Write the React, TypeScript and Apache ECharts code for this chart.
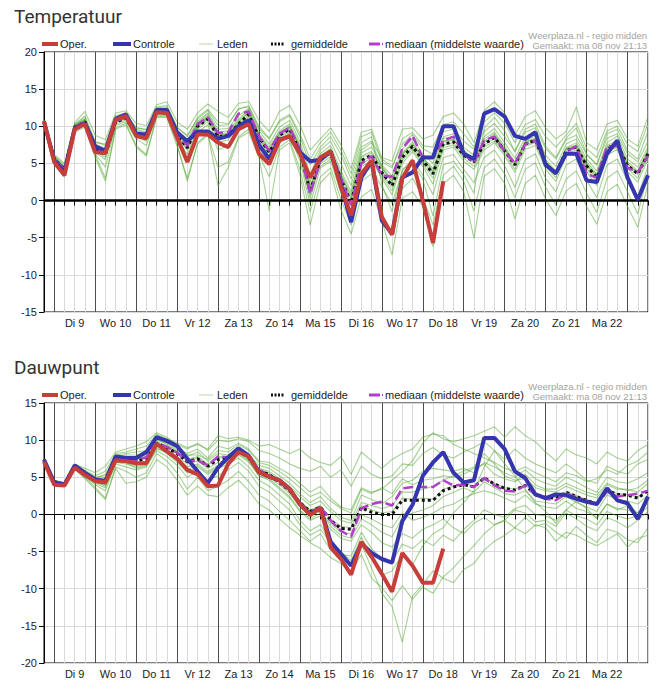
import React, { useEffect, useRef } from 'react';
import * as echarts from 'echarts';

// Day names shown under the x axis (label at noon of each day)
const DAYS = ['Ma 8', 'Di 9', 'Wo 10', 'Do 11', 'Vr 12', 'Za 13', 'Zo 14', 'Ma 15', 'Di 16', 'Wo 17', 'Do 18', 'Vr 19', 'Za 20', 'Zo 21', 'Ma 22', 'Di 23'];
// Forecast runs in 6-hour steps, starting Monday 8 at 18:00
const STEP_HOURS = 6;
const START_HOUR = 18;
const STEPS = 60;

// ---------- Temperatuur ----------
const T_OPER = [10.7, 5.2, 3.4, 9.6, 10.3, 6.5, 6.4, 10.9, 11.4, 8.7, 8.4, 11.9, 11.8, 8.5, 5.2, 8.9, 8.9, 7.8, 7.2, 9.6, 10.3, 6.3, 4.9, 8.1, 8.7, 6.3, 3.1, 5.8, 6.6, 1.8, -2.0, 3.6, 5.4, -2.2, -4.6, 3.0, 5.4, 0.0, -5.7, 2.6];
const T_CTRL = [10.6, 5.4, 3.8, 9.7, 10.4, 7.3, 6.7, 11.0, 11.6, 9.0, 8.9, 12.2, 12.2, 9.2, 8.0, 9.3, 9.3, 8.3, 8.7, 10.0, 10.8, 7.5, 5.6, 8.2, 8.6, 6.5, 5.3, 5.5, 6.6, 2.2, -2.9, 3.1, 5.3, -2.7, -4.5, 3.1, 3.8, 5.8, 5.8, 10.0, 10.0, 6.3, 5.6, 11.7, 12.3, 11.3, 8.7, 8.3, 9.2, 4.8, 3.7, 6.3, 6.3, 2.7, 2.5, 6.3, 8.1, 3.1, 0.1, 3.4];
const T_MEAN = [10.6, 5.6, 4.2, 9.9, 10.6, 7.0, 6.2, 10.6, 11.1, 9.0, 8.6, 11.9, 11.9, 8.8, 7.1, 10.0, 11.0, 8.6, 8.8, 10.3, 11.6, 8.5, 6.5, 8.8, 9.6, 6.7, 1.2, 5.6, 6.5, 2.9, -0.3, 5.4, 6.1, 3.8, 2.0, 5.8, 7.3, 5.4, 3.6, 7.6, 7.9, 6.1, 5.2, 7.6, 8.5, 6.7, 4.8, 7.6, 8.1, 5.0, 3.6, 6.7, 7.2, 4.7, 3.1, 6.9, 7.6, 4.7, 3.6, 6.3];
const T_MEDIAN = [10.6, 5.6, 4.2, 9.9, 10.6, 7.0, 6.3, 10.7, 11.2, 9.0, 8.7, 12.0, 12.0, 8.9, 7.4, 10.3, 11.2, 9.1, 9.2, 11.7, 12.0, 8.6, 6.7, 9.0, 9.8, 6.9, 0.9, 5.4, 6.6, 3.0, -0.6, 5.0, 6.0, 3.4, 3.2, 7.0, 8.7, 5.8, 5.8, 8.1, 8.6, 6.3, 5.1, 8.1, 8.6, 6.6, 5.0, 7.6, 8.1, 4.9, 3.6, 6.6, 7.3, 3.6, 3.1, 7.3, 7.3, 4.4, 3.8, 6.0];
const T_MEMBERS = [
  [10.7, 5.9, 4.6, 10.2, 11.0, 7.5, 6.8, 11.0, 11.5, 9.4, 9.1, 12.3, 12.4, 9.3, 7.8, 10.5, 11.6, 9.2, 9.4, 11.0, 12.2, 9.0, 7.2, 9.4, 10.3, 7.5, 2.5, 6.3, 7.4, 4.0, 1.2, 6.4, 7.2, 4.8, 3.3, 6.9, 8.3, 6.3, 5.0, 8.6, 9.0, 7.2, 6.1, 8.6, 9.7, 7.8, 5.7, 8.5, 9.2, 6.1, 4.6, 7.6, 8.3, 5.6, 4.0, 7.8, 8.7, 5.6, 4.5, 7.2],
  [10.5, 5.0, 3.3, 9.4, 10.2, 6.2, 3.0, 9.8, 10.4, 7.4, 6.2, 11.3, 11.4, 7.6, 2.6, 7.8, 9.0, 2.0, 4.5, 8.4, 9.2, 5.8, -1.4, 6.8, 7.8, 3.5, -3.3, 2.4, 3.8, -1.2, -4.5, 0.5, 1.5, -2.8, -7.3, 0.3, 1.2, -0.8, -6.2, 2.3, 3.4, 1.2, -5.1, 3.3, 4.3, 2.3, -2.5, 2.3, 3.4, 0.2, -2.0, 1.3, 2.3, -0.8, -3.2, 1.2, 2.2, -0.8, -3.6, 2.3],
  [10.9, 6.2, 5.0, 10.5, 12.0, 8.8, 8.2, 11.8, 12.1, 10.4, 10.1, 12.9, 13.3, 10.6, 9.6, 11.8, 13.0, 12.0, 11.2, 13.1, 13.3, 10.8, 9.3, 12.0, 12.8, 10.2, 6.8, 8.3, 9.8, 7.5, 4.3, 9.2, 9.6, 5.8, 5.3, 9.6, 9.8, 8.3, 8.8, 11.3, 11.8, 10.3, 7.8, 12.1, 13.3, 11.8, 8.8, 11.3, 12.1, 9.8, 8.3, 9.3, 12.6, 7.8, 6.8, 10.3, 10.8, 8.3, 7.3, 11.3],
  [10.6, 5.4, 4.0, 9.7, 10.3, 6.6, 5.5, 10.3, 10.8, 8.6, 8.0, 11.6, 11.6, 8.4, 6.2, 9.6, 10.6, 7.8, 8.2, 9.8, 11.0, 7.8, 5.6, 8.2, 9.1, 6.0, 0.3, 5.0, 5.9, 2.0, -1.5, 4.6, 5.4, 3.0, 0.8, 5.0, 6.6, 4.6, 2.2, 6.8, 7.2, 5.3, 4.2, 6.8, 7.8, 6.0, 3.8, 6.9, 7.4, 4.2, 2.6, 6.0, 6.5, 3.9, 2.0, 6.1, 6.9, 3.9, 2.5, 5.6],
  [10.5, 5.7, 4.4, 10.0, 10.8, 7.2, 6.5, 10.8, 11.3, 9.2, 8.9, 12.1, 12.1, 9.0, 7.4, 10.2, 11.2, 9.0, 8.9, 10.5, 11.8, 8.7, 6.9, 9.2, 10.0, 7.3, 2.0, 4.6, 5.6, 3.6, 0.8, 6.8, 7.8, 4.6, 2.8, 6.3, 7.6, 5.8, 4.3, 8.4, 8.6, 6.8, 5.6, 8.3, 9.2, 7.3, 5.2, 8.0, 8.7, 5.5, 4.0, 7.1, 7.8, 5.2, 3.6, 7.4, 8.1, 5.2, 4.0, 6.9],
  [10.6, 5.5, 3.8, 9.8, 10.4, 6.8, 5.8, 10.5, 11.0, 8.8, 8.3, 11.8, 11.8, 8.6, 6.8, 9.9, 10.9, 8.3, 8.5, 10.1, 11.3, 8.2, 6.0, 8.5, 9.3, 6.3, 0.8, 5.3, 6.2, 2.4, -0.8, 5.0, 5.7, 3.3, 1.3, 5.4, 6.9, 4.9, 3.0, 7.1, 7.5, 5.7, 4.6, 7.2, 8.0, 6.3, 4.2, 7.3, 7.8, 4.6, 3.1, 6.4, 6.8, 4.3, 2.5, 6.5, 7.2, 4.3, 3.0, 6.0],
  [10.8, 5.8, 4.3, 10.1, 10.9, 7.8, 7.6, 11.2, 11.6, 9.8, 9.5, 12.5, 12.6, 9.8, 8.8, 11.0, 12.1, 10.1, 10.2, 12.3, 12.8, 9.7, 8.3, 10.6, 11.4, 8.6, 4.8, 7.2, 8.6, 6.2, 2.9, 7.8, 8.6, 2.2, -1.5, 4.2, 5.1, 2.9, -2.1, 4.8, 5.3, 3.5, 1.0, 9.8, 11.2, 9.4, 6.6, 9.6, 10.3, 7.3, 5.8, 8.4, 9.8, 6.3, 4.8, 9.0, 9.6, 6.7, 5.6, 9.3],
  [10.4, 4.8, 3.2, 9.2, 9.9, 5.8, 2.6, 9.6, 10.2, 7.2, 6.0, 11.2, 11.2, 7.3, 3.0, 7.6, 8.8, 4.5, 5.2, 8.6, 9.6, 6.2, 3.2, 7.2, 8.2, 4.2, -1.5, 3.2, 4.4, 0.2, -3.3, 2.6, 3.6, -1.8, -4.6, 1.6, 3.0, 0.5, -3.3, 3.4, 4.6, 2.6, -1.4, 4.4, 5.6, 3.6, 0.4, 4.2, 5.1, 1.8, -0.6, 2.9, 4.0, 1.0, -1.6, 3.0, 4.0, 1.2, -1.8, 3.6],
  [10.7, 6.0, 4.8, 10.3, 11.4, 8.0, 7.4, 11.4, 11.8, 9.8, 9.6, 12.6, 12.8, 9.9, 8.6, 11.2, 12.3, 10.6, 10.3, 12.4, 12.6, 10.0, 8.4, 10.8, 11.6, 9.0, 5.6, 7.8, 9.2, 6.8, 3.6, 8.6, 9.2, 5.2, 4.4, 8.3, 9.2, 7.4, 7.2, 10.2, 10.6, 9.0, 7.2, 10.6, 11.8, 10.4, 7.8, 10.2, 10.9, 8.6, 7.2, 8.8, 10.4, 7.0, 5.8, 9.4, 10.0, 7.6, 6.6, 10.4],
  [10.6, 5.6, 4.1, 9.9, 10.5, 7.1, 6.4, 10.6, 11.1, 9.1, 8.7, 11.9, 12.0, 8.9, 7.3, 10.1, 11.2, 8.8, 9.0, 10.6, 11.9, 8.6, 6.4, 9.0, 9.8, 6.9, 1.6, 5.9, 6.9, 3.3, 0.2, 5.8, 6.4, 4.3, 2.6, 6.4, 7.9, 5.8, 4.0, 8.0, 8.3, 6.5, 5.6, 8.0, 9.0, 7.0, 5.0, 7.9, 8.4, 5.2, 3.9, 7.0, 7.5, 4.9, 3.4, 7.2, 7.9, 4.9, 3.8, 6.6],
  [10.5, 5.3, 3.9, 9.6, 10.1, 6.3, 4.5, 10.1, 10.6, 8.3, 7.4, 11.5, 11.5, 8.1, 5.4, 9.2, 10.2, 6.8, 7.4, 9.4, 10.4, 7.1, 4.8, 7.8, 8.7, 5.4, -0.5, 4.4, 5.3, 1.0, -2.4, 3.5, 4.4, 1.8, -0.4, 4.0, 5.6, 3.4, 0.8, 5.8, 6.2, 4.2, 2.4, 5.8, 6.8, 4.7, 1.8, 5.5, 6.3, 3.0, 1.2, 4.8, 5.6, 2.7, 0.4, 4.8, 5.6, 2.6, 0.6, 4.6],
  [10.8, 5.9, 4.5, 10.2, 11.2, 7.6, 7.0, 11.1, 11.6, 9.6, 9.2, 12.2, 12.4, 9.4, 8.2, 10.7, 11.8, 9.6, 9.7, 11.4, 12.4, 9.4, 7.6, 9.9, 10.8, 8.0, 3.5, 6.8, 8.0, 5.0, 2.0, 7.2, 8.0, 5.6, 4.6, 7.6, 8.9, 7.0, 6.2, 9.3, 9.6, 8.0, 6.9, 9.3, 10.4, 8.6, 6.6, 9.2, 9.8, 7.0, 5.6, 8.2, 8.8, 6.2, 4.8, 8.4, 9.0, 6.3, 5.2, 8.0],
  [10.6, 5.6, 4.3, 9.9, 10.7, 7.0, 6.1, 10.7, 11.2, 8.9, 8.5, 11.9, 11.9, 8.8, 7.0, 10.0, 11.0, 8.6, 8.7, 10.3, 11.5, 8.4, 6.4, 8.7, 9.5, 6.6, 1.0, 5.5, 6.4, 2.8, -0.4, 5.3, 6.0, 3.6, 1.8, 5.7, 7.2, 5.3, 3.5, 7.5, 7.8, 6.0, 5.1, 7.5, 8.4, 6.6, 4.7, 7.5, 8.0, 4.9, 3.5, 6.6, 7.1, 4.6, 3.0, 6.8, 7.5, 4.6, 3.5, 6.2],
  [10.7, 5.7, 4.4, 10.0, 10.8, 7.3, 6.6, 10.9, 11.4, 9.3, 8.9, 12.1, 12.2, 9.1, 7.6, 10.4, 11.4, 9.1, 9.1, 10.8, 12.0, 8.9, 6.8, 9.1, 10.0, 7.1, 1.8, 6.0, 7.0, 3.5, 0.5, 6.0, 6.6, 4.5, 2.5, 6.2, 7.6, 5.6, 3.8, 7.9, 8.2, 6.4, 5.4, 7.8, 8.8, 6.9, 5.0, 7.8, 8.3, 5.2, 3.8, 6.9, 7.4, 4.8, 3.3, 7.0, 7.8, 4.9, 3.8, 6.5],
];

// ---------- Dauwpunt ----------
const D_OPER = [7.1, 4.0, 3.9, 6.3, 5.3, 4.5, 4.3, 7.3, 7.2, 6.9, 6.9, 9.5, 8.5, 7.5, 6.0, 5.4, 3.8, 3.9, 6.8, 8.4, 7.8, 5.7, 5.1, 4.6, 3.4, 1.4, -0.1, 0.9, -4.4, -6.0, -8.1, -3.7, -5.7, -8.0, -10.4, -5.2, -6.9, -9.2, -9.2, -4.6];
const D_CTRL = [7.4, 4.3, 4.0, 6.6, 5.6, 4.7, 4.5, 7.8, 7.6, 7.6, 8.4, 10.4, 9.9, 9.2, 7.5, 5.8, 4.2, 6.3, 7.7, 8.9, 7.9, 5.7, 5.1, 4.6, 3.4, 1.4, 0.1, 0.9, -3.7, -5.3, -6.9, -3.9, -5.2, -6.0, -6.5, -0.9, 1.3, 5.2, 7.0, 8.4, 5.6, 4.3, 4.6, 10.3, 10.3, 8.8, 5.8, 4.9, 2.7, 2.2, 2.7, 2.6, 2.1, 1.7, 1.4, 3.5, 1.9, 1.5, -0.6, 2.4];
const D_MEAN = [7.3, 4.4, 4.1, 6.5, 5.5, 4.6, 4.5, 7.4, 7.5, 7.2, 7.5, 9.6, 9.0, 8.2, 7.1, 7.5, 6.5, 7.4, 7.6, 8.6, 7.6, 5.8, 5.4, 4.3, 3.2, 1.6, 0.4, 1.0, -0.8, -1.9, -2.0, 0.9, 0.3, 0.0, 0.0, 1.9, 1.9, 1.9, 1.9, 3.2, 3.7, 4.0, 3.7, 4.9, 4.1, 3.5, 3.3, 3.9, 2.7, 2.3, 2.2, 3.0, 2.4, 1.9, 1.4, 3.2, 2.7, 2.6, 2.2, 3.2];
const D_MEDIAN = [7.3, 4.4, 4.1, 6.5, 5.5, 4.6, 4.5, 7.4, 7.5, 7.3, 7.7, 9.6, 9.1, 8.3, 7.2, 7.3, 6.6, 7.8, 7.7, 8.5, 7.6, 6.0, 5.3, 4.3, 3.3, 1.6, 0.2, 1.0, -0.8, -2.2, -3.0, 0.8, 1.4, 1.7, 1.2, 3.5, 3.7, 3.7, 3.7, 4.6, 3.9, 4.0, 3.7, 4.9, 3.9, 3.2, 3.1, 3.9, 2.6, 2.1, 1.9, 2.8, 2.3, 1.8, 1.4, 3.1, 2.4, 2.6, 2.8, 3.2];
const D_MEMBERS = [
  [7.5, 4.6, 4.3, 6.8, 6.2, 5.6, 6.5, 8.4, 8.8, 9.2, 9.8, 11.0, 10.4, 9.4, 8.8, 9.6, 8.6, 10.0, 9.8, 10.2, 9.8, 8.6, 8.2, 7.6, 6.8, 6.2, 5.8, 6.5, 5.0, 6.0, 3.8, 6.5, 5.4, 4.8, 5.2, 6.8, 6.6, 8.2, 9.0, 8.0, 7.6, 8.4, 9.0, 9.8, 8.6, 7.4, 8.8, 7.6, 6.8, 6.2, 5.6, 6.8, 5.8, 4.6, 4.2, 6.5, 5.8, 5.4, 6.8, 7.4],
  [7.2, 4.2, 3.9, 6.2, 5.0, 3.6, 2.2, 6.4, 5.8, 5.0, 5.6, 8.2, 7.2, 5.6, 3.4, 5.0, 3.2, 3.8, 4.6, 5.8, 4.4, 2.6, 1.8, 0.4, -0.8, -2.2, -3.6, -2.6, -4.8, -6.2, -6.8, -4.0, -7.2, -10.6, -12.4, -17.2, -11.0, -9.4, -7.6, -8.6, -9.2, -7.4, -6.6, -4.8, -3.6, -2.8, -1.8, -2.6, -1.4, -1.8, -3.6, -2.4, -2.8, -3.6, -4.2, -3.4, -2.6, -4.4, -3.2, -2.8],
  [7.3, 4.4, 4.1, 6.5, 5.6, 4.6, 4.6, 7.6, 7.8, 7.4, 7.8, 9.8, 9.2, 8.4, 7.2, 7.6, 6.6, 7.6, 7.8, 8.8, 7.8, 6.0, 5.6, 4.4, 3.4, 1.8, 0.6, 1.2, -0.6, -1.6, -1.8, 1.2, 0.6, 0.2, 0.4, 2.2, 2.0, 2.2, 2.0, 3.4, 3.8, 4.2, 3.8, 5.0, 4.2, 3.6, 3.4, 4.0, 2.8, 2.4, 2.3, 3.1, 2.5, 2.0, 1.5, 3.3, 2.8, 2.7, 2.3, 3.3],
  [7.2, 4.3, 4.0, 6.4, 5.2, 4.2, 3.6, 7.0, 6.8, 6.4, 6.8, 9.0, 8.2, 7.0, 5.6, 6.4, 5.4, 6.2, 6.8, 7.6, 6.4, 4.6, 3.8, 2.6, 1.4, -0.8, -2.2, -1.4, -3.6, -5.0, -6.2, -3.0, -5.8, -8.2, -7.6, -5.4, -6.8, -4.2, -2.6, -1.8, 0.2, 1.6, 3.2, 6.4, 8.6, 6.8, 5.2, 3.4, 1.6, 0.4, -1.2, 0.6, 1.8, 0.8, -0.6, 1.4, 0.6, 1.2, 0.2, 2.0],
  [7.4, 4.5, 4.2, 6.6, 5.8, 5.0, 5.2, 8.0, 8.2, 8.4, 8.6, 10.4, 9.8, 9.0, 8.2, 8.8, 7.6, 9.2, 8.8, 9.6, 8.8, 7.2, 7.0, 6.2, 5.4, 4.2, 3.0, 3.8, 2.2, 1.0, 0.6, 3.6, 3.0, 3.4, 4.6, 5.8, 7.2, 9.6, 11.0, 10.2, 9.8, 10.2, 10.6, 11.2, 11.8, 10.4, 11.8, 10.6, 9.8, 8.4, 7.2, 8.8, 8.0, 7.6, 6.8, 8.4, 7.6, 7.2, 8.6, 9.4],
  [7.2, 4.3, 4.0, 6.3, 5.3, 4.3, 4.0, 7.1, 7.0, 6.6, 7.0, 9.2, 8.6, 7.6, 6.4, 6.8, 5.8, 6.6, 7.0, 8.0, 7.0, 5.2, 4.6, 3.4, 2.2, 0.4, -0.8, -0.2, -2.0, -3.2, -3.6, -1.4, -2.4, -3.8, -4.4, -2.6, -3.2, -2.0, -1.4, -0.6, -1.8, -2.6, -1.2, -0.4, -1.4, -0.8, 0.6, 0.2, -1.0, -0.8, -1.6, 0.2, -0.6, -1.6, -2.2, -0.4, -1.0, -1.8, -0.8, 0.4],
  [7.3, 4.4, 4.1, 6.5, 5.5, 4.8, 5.0, 7.6, 7.6, 7.8, 8.2, 10.2, 9.4, 8.6, 7.8, 8.4, 7.2, 8.2, 8.0, 9.0, 8.0, 6.6, 6.2, 5.2, 4.2, 2.8, 1.6, 2.4, 0.8, -0.4, -0.8, 2.6, 2.0, 1.4, 2.4, 4.2, 4.6, 5.8, 6.2, 6.0, 5.8, 6.2, 5.6, 7.0, 6.4, 5.6, 5.0, 6.0, 4.8, 4.2, 3.8, 5.0, 4.4, 3.6, 3.0, 5.0, 4.4, 4.2, 4.8, 5.6],
  [7.1, 4.2, 3.9, 6.1, 4.8, 3.4, 2.0, 6.2, 4.2, 4.4, 5.0, 7.4, 6.4, 4.6, 2.6, 3.8, 2.6, 2.4, 3.6, 4.6, 3.2, 1.4, 0.6, -0.6, -1.8, -2.8, -3.8, -4.6, -5.8, -6.6, -7.8, -5.4, -8.6, -9.8, -11.6, -9.6, -11.4, -9.8, -10.6, -8.4, -7.2, -5.6, -4.2, -2.6, -1.4, -0.8, -1.8, -0.4, -1.6, -1.2, -2.4, -3.2, -1.6, -2.8, -3.8, -2.0, -2.4, -3.4, -3.8, -1.8],
  [7.4, 4.6, 4.2, 6.7, 5.9, 5.2, 5.8, 8.2, 8.4, 8.8, 9.2, 10.8, 10.2, 9.6, 9.0, 9.4, 8.8, 10.6, 10.2, 10.4, 10.0, 9.2, 9.4, 8.8, 8.2, 8.8, 7.6, 7.0, 6.6, 7.8, 5.4, 8.4, 7.2, 6.2, 7.4, 8.2, 8.8, 10.4, 10.8, 10.6, 9.4, 8.8, 8.2, 7.6, 7.0, 6.2, 5.8, 6.4, 5.6, 5.0, 4.4, 5.6, 5.2, 4.4, 4.8, 6.0, 5.4, 6.6, 7.2, 8.4],
  [7.3, 4.4, 4.0, 6.4, 5.4, 4.5, 4.2, 7.2, 7.2, 7.0, 7.2, 9.4, 8.8, 7.8, 6.8, 7.2, 6.2, 7.0, 7.4, 8.4, 7.4, 5.6, 5.0, 4.0, 2.8, 1.0, -0.2, 0.4, -1.6, -2.8, -3.2, -0.6, -1.4, -2.4, -3.0, -0.4, 0.2, 0.6, 1.2, 2.4, 3.0, 3.6, 3.0, 4.4, 3.6, 2.8, 2.6, 3.2, 1.8, 1.6, 1.4, 2.4, 1.6, 1.0, 0.4, 2.6, 2.0, 1.8, 1.4, 2.6],
  [7.4, 4.5, 4.2, 6.6, 5.7, 4.9, 5.4, 7.8, 8.0, 8.0, 8.4, 10.0, 9.6, 8.8, 8.0, 8.0, 7.4, 8.6, 8.4, 9.4, 8.6, 7.0, 6.6, 5.8, 4.8, 3.6, 2.4, 3.0, 1.8, 0.8, 0.2, 3.4, 2.8, 3.6, 2.8, 4.8, 4.0, 4.6, 4.8, 5.2, 5.0, 5.4, 6.2, 6.8, 5.4, 4.8, 4.4, 5.4, 4.0, 3.4, 3.4, 4.2, 3.6, 3.0, 2.6, 4.2, 3.6, 3.2, 3.6, 4.6],
  [7.2, 4.3, 4.0, 6.4, 5.3, 4.4, 3.8, 7.0, 7.0, 6.2, 6.6, 8.8, 8.4, 7.2, 6.0, 6.6, 5.6, 6.4, 7.2, 8.2, 7.2, 5.2, 4.8, 3.6, 2.4, 0.6, -0.6, 0.2, -1.2, -2.4, -2.6, 0.0, -0.6, -1.4, -1.8, 0.2, -0.8, -0.4, 0.2, 1.0, 1.4, 2.2, 2.8, 3.2, 2.8, 2.2, 1.6, 2.6, 1.4, 1.0, 0.8, 1.8, 0.8, 0.4, -0.4, 1.4, 0.8, 0.6, 0.2, 1.6],
  [7.3, 4.4, 4.1, 6.5, 5.6, 4.7, 4.8, 7.4, 7.6, 7.6, 8.0, 9.6, 9.0, 8.4, 7.4, 7.8, 6.8, 7.8, 7.8, 8.8, 7.8, 6.2, 5.8, 4.8, 3.8, 2.4, 1.2, 1.8, 0.4, -0.8, -1.2, 1.6, 1.2, 0.8, 1.2, 3.0, 3.0, 3.4, 3.8, 4.6, 5.2, 5.8, 6.4, 8.2, 6.8, 5.2, 4.6, 4.8, 3.6, 3.2, 3.0, 3.8, 3.2, 2.6, 2.2, 4.0, 3.4, 3.4, 3.0, 4.2],
  [7.2, 4.3, 4.0, 6.3, 5.1, 4.0, 3.2, 6.8, 6.4, 6.0, 6.4, 8.6, 7.8, 6.6, 5.0, 5.8, 4.6, 5.2, 6.0, 7.0, 5.8, 3.8, 3.0, 1.8, 0.6, -1.4, -2.8, -2.0, -3.8, -5.4, -5.6, -2.4, -4.6, -6.0, -6.4, -4.0, -4.6, -3.4, -4.2, -2.8, -3.6, -2.0, -0.8, 0.6, 0.0, -0.4, 0.8, 1.2, 0.0, -0.2, -0.8, 0.6, -0.2, -0.6, -1.4, 0.4, -0.2, -0.6, -0.2, 1.0],
];

// ---------- styling ----------
const OPER_COLOR = '#c63d3a';
const CTRL_COLOR = '#3535ad';
const MEMBER_COLOR = 'rgba(76,166,40,0.5)';
const MEMBER_LEGEND = '#b7d9a8';
const MEAN_COLOR = '#111111';
const MEDIAN_COLOR = '#b23fcb';
const GRID_LIGHT = '#d9d9d9';
const GRID_DARK = '#4d4d4d';
const TEXT = '#222';
const AXIS_FONT = 'Arial, "Liberation Sans", sans-serif';

const GRID_LEFT = 44;
const GRID_WIDTH = 604;
const GRID_HEIGHT = 260;

// time-step categories, e.g. "Di 9 12:00"
const CATEGORIES: string[] = [];
for (let i = 0; i < STEPS; i++) {
  const h = START_HOUR + i * STEP_HOURS;
  const hh = String(h % 24).padStart(2, '0');
  CATEGORIES.push(`${DAYS[Math.floor(h / 24)]} ${hh}:00`);
}

type Panel = {
  title: string;
  top: number;
  min: number;
  max: number;
  oper: number[];
  ctrl: number[];
  mean: number[];
  median: number[];
  members: number[][];
  zeroLine: boolean;
};

const PANELS: Panel[] = [
  { title: 'Temperatuur', top: 52, min: -15, max: 20, oper: T_OPER, ctrl: T_CTRL, mean: T_MEAN, median: T_MEDIAN, members: T_MEMBERS, zeroLine: true },
  { title: 'Dauwpunt', top: 403, min: -20, max: 15, oper: D_OPER, ctrl: D_CTRL, mean: D_MEAN, median: D_MEDIAN, members: D_MEMBERS, zeroLine: false },
];

function legendGraphics(top: number, title: string) {
  const y = top - 8;
  const txt = (text: string, x: number) => ({
    type: 'text', x, y, silent: true,
    style: { text, fill: TEXT, fontSize: 11, fontFamily: AXIS_FONT, align: 'left', verticalAlign: 'middle' },
  });
  const line = (x1: number, x2: number, stroke: string, lineWidth: number, lineDash?: number[]) => ({
    type: 'line', silent: true,
    shape: { x1, y1: y, x2, y2: y },
    style: { stroke, lineWidth, lineDash },
  });
  return [
    {
      type: 'text', x: 14, y: top - 36, silent: true,
      style: { text: title, fill: '#333', fontSize: 19, fontFamily: 'Roboto, Arial, sans-serif', align: 'left', verticalAlign: 'middle' },
    },
    line(42, 58, OPER_COLOR, 4), txt('Oper.', 60),
    line(113, 131, CTRL_COLOR, 4), txt('Controle', 133),
    line(199, 213, MEMBER_LEGEND, 1), txt('Leden', 217),
    line(271, 284, MEAN_COLOR, 3, [2, 1.5]), txt('gemiddelde', 291),
    line(369, 380, MEDIAN_COLOR, 3), line(382, 383, MEDIAN_COLOR, 2), txt('mediaan (middelste waarde)', 385),
    {
      type: 'text', x: 647, y: top - 17, silent: true,
      style: { text: 'Weerplaza.nl - regio midden', fill: '#a3a3a3', fontSize: 9.5, fontFamily: AXIS_FONT, align: 'right', verticalAlign: 'middle' },
    },
    {
      type: 'text', x: 647, y: top - 7, silent: true,
      style: { text: 'Gemaakt: ma 08 nov 21:13', fill: '#a3a3a3', fontSize: 9.5, fontFamily: AXIS_FONT, align: 'right', verticalAlign: 'middle' },
    },
  ];
}

function buildOption() {
  const grid: any[] = [];
  const xAxis: any[] = [];
  const yAxis: any[] = [];
  const series: any[] = [];
  const graphic: any[] = [];

  PANELS.forEach((p, gi) => {
    grid.push({
      left: GRID_LEFT, top: p.top, width: GRID_WIDTH, height: GRID_HEIGHT,
      show: true, borderColor: '#000', borderWidth: 1, backgroundColor: 'transparent',
    });
    xAxis.push({
      type: 'category', gridIndex: gi, data: CATEGORIES, boundaryGap: false,
      axisLine: { lineStyle: { color: '#000', width: 1 } },
      axisTick: { show: true, interval: 0, length: 5, lineStyle: { color: '#000' } },
      axisLabel: {
        interval: (i: number) => i % 4 === 3 && i < STEPS - 1,
        formatter: (v: string) => v.slice(0, v.lastIndexOf(' ')),
        color: TEXT, fontSize: 11, fontFamily: AXIS_FONT, margin: 5,
      },
      // every 6 hours a light line, at midnight a dark one
      splitLine: { show: true, interval: 0, lineStyle: { color: [GRID_LIGHT, GRID_DARK, GRID_LIGHT, GRID_LIGHT], width: 1 } },
    });
    yAxis.push({
      type: 'value', gridIndex: gi, min: p.min, max: p.max, interval: 5,
      axisLine: { show: true, lineStyle: { color: '#000', width: 1 } },
      axisTick: { show: true, length: 5, lineStyle: { color: '#000' } },
      axisLabel: { color: TEXT, fontSize: 11, fontFamily: AXIS_FONT, margin: 7 },
      splitLine: { show: true, lineStyle: { color: GRID_LIGHT, width: 1 } },
    });

    const base = { type: 'line', xAxisIndex: gi, yAxisIndex: gi, symbol: 'none', showSymbol: false, silent: true, animation: false };

    p.members.forEach((m, k) => {
      series.push({ ...base, name: `Leden ${gi}-${k}`, data: m, z: 2, lineStyle: { color: MEMBER_COLOR, width: 1.1 } });
    });
    series.push({
      ...base, name: `gemiddelde ${gi}`, data: p.mean, z: 4,
      lineStyle: { color: MEAN_COLOR, width: 3, type: [3, 3] },
      markLine: p.zeroLine
        ? { silent: true, symbol: 'none', z: 3, label: { show: false }, lineStyle: { color: '#000', width: 2.5, type: 'solid' }, data: [{ yAxis: 0 }] }
        : undefined,
    });
    series.push({ ...base, name: `mediaan ${gi}`, data: p.median, z: 4, lineStyle: { color: MEDIAN_COLOR, width: 2.5, type: [10, 4] } });
    series.push({ ...base, name: `Controle ${gi}`, data: p.ctrl, z: 5, lineStyle: { color: CTRL_COLOR, width: 4 } });
    series.push({ ...base, name: `Oper. ${gi}`, data: p.oper, z: 6, lineStyle: { color: OPER_COLOR, width: 4 } });

    graphic.push(...legendGraphics(p.top, p.title));
  });

  return { animation: false, backgroundColor: '#fff', grid, xAxis, yAxis, series, graphic };
}

export default function App() {
  const ref = useRef<HTMLDivElement>(null);
  useEffect(() => {
    if (!ref.current) return;
    const chart = echarts.init(ref.current, null, { renderer: 'svg' });
    chart.setOption(buildOption() as any);
    return () => chart.dispose();
  }, []);
  return <div ref={ref} style={{ position: 'absolute', left: 0, top: 0, width: 670, height: 695, background: '#fff' }} />;
}
